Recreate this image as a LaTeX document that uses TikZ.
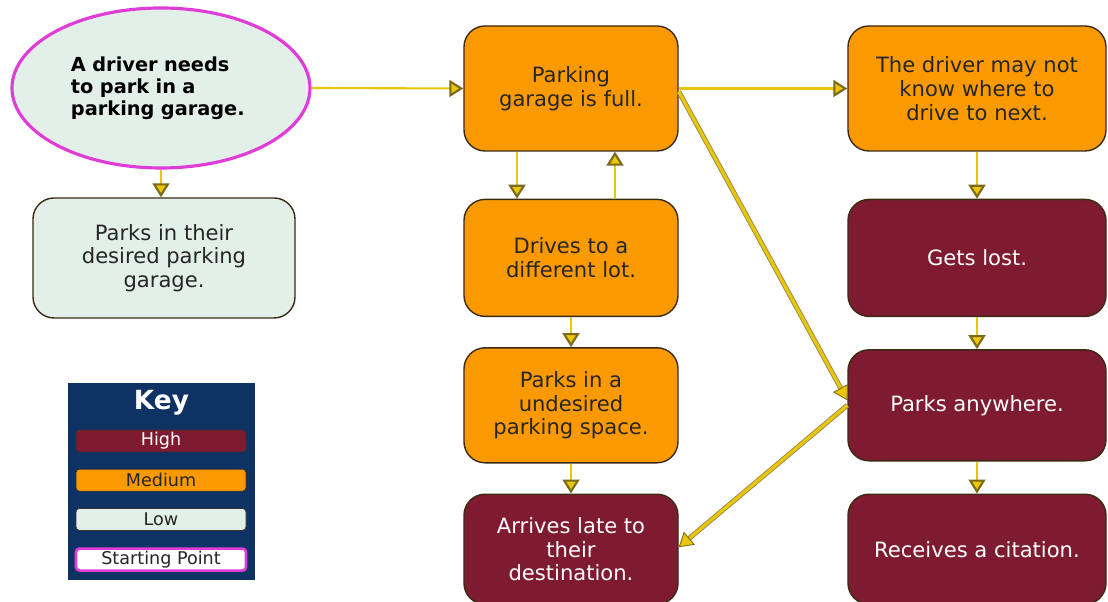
\documentclass[tikz,border=0pt]{standalone}
\usepackage{fontspec}
\setmainfont{DejaVu Sans}
\usepackage{xcolor}
\usepackage{tikz}
\usetikzlibrary{shapes,arrows.meta,positioning}

\definecolor{medorange}{HTML}{FB9A00}
\definecolor{highred}{HTML}{7E1B31}
\definecolor{lowmint}{HTML}{E3F0EA}
\definecolor{startpink}{HTML}{E03CD8}
\definecolor{keynavy}{HTML}{0E3263}
\definecolor{arrowgold}{HTML}{E9C60A}
\definecolor{tipedge}{HTML}{7A6A1A}
\definecolor{boxedge}{HTML}{3B2A14}

\begin{document}
\begin{tikzpicture}[node distance=0.94cm, >={Triangle[length=0.28cm,width=0.34cm,fill=arrowgold,color=tipedge]}]
                    % Define styles
                    \tikzstyle{risk} = [rectangle, rounded corners=0.42cm, draw=boxedge, thick, align=center, font=\fontsize{12}{13.5}\selectfont]
                    \tikzstyle{medium} = [risk, fill=medorange, text=black!85, minimum width=4.28cm]
                    \tikzstyle{high} = [risk, fill=highred, text=white, minimum width=5.16cm]
                    \tikzstyle{low} = [risk, fill=lowmint, text=black!85, minimum width=5.24cm]
                    \tikzstyle{start} = [ellipse, draw=startpink, line width=1.8pt, fill=lowmint, text width=3.6cm, align=left, minimum width=5.96cm, minimum height=3.2cm, font=\fontsize{11}{12.5}\selectfont\bfseries]
                    \tikzstyle{keyitem} = [rectangle, rounded corners=2pt, draw=black!80, minimum width=3.4cm, minimum height=0.44cm, inner sep=0pt, font=\fontsize{10}{11}\selectfont]
                    \tikzstyle{line} = [draw=arrowgold, ->, line width=1.2pt]
                    \tikzstyle{cross} = [draw=tipedge!80, double=arrowgold, double distance=1.8pt, line width=0.5pt, ->]

                    \useasboundingbox (0,0) rectangle (22.16,12.04);

                    % Nodes
                    \node [start] (need) at (3.22,10.28) {A driver needs\\to park in a\\parking garage.};
                    \node [low, minimum height=2.4cm] (desired) at (3.28,6.88) {Parks in their\\desired parking\\garage.};

                    \node [medium, minimum height=2.5cm] (full) at (11.42,10.27) {Parking\\garage is full.};
                    \node [medium, minimum height=2.34cm, below=0.94cm of full] (lot) {Drives to a\\different lot.};
                    \node [medium, minimum height=2.3cm, below=0.6cm of lot] (undesired) {Parks in a\\undesired\\parking space.};
                    \node [high, minimum width=4.28cm, minimum height=2.2cm, below=0.6cm of undesired] (late) {Arrives late to\\their\\destination.};

                    \node [medium, minimum width=5.16cm, minimum height=2.5cm] (unsure) at (19.54,10.27) {The driver may not\\know where to\\drive to next.};
                    \node [high, minimum height=2.34cm, below=0.94cm of unsure] (lost) {Gets lost.};
                    \node [high, minimum height=2.22cm, below=0.64cm of lost] (anywhere) {Parks anywhere.};
                    \node [high, minimum height=2.2cm, below=0.64cm of anywhere] (citation) {Receives a citation.};

                    % Key
                    \node [rectangle, fill=keynavy, minimum width=3.74cm, minimum height=3.94cm] (key) at (3.23,2.41) {};
                    \node [text=white, font=\fontsize{15}{16}\selectfont\bfseries, below=0.02cm of key.north] (keytitle) {Key};
                    \node [keyitem, fill=highred, text=white] (keyhigh) at (3.22,3.22) {High};
                    \node [keyitem, fill=medorange, text=black!85, below=0.33cm of keyhigh] (keymed) {Medium};
                    \node [keyitem, fill=lowmint, text=black!85, below=0.33cm of keymed] (keylow) {Low};
                    \node [keyitem, fill=white, draw=startpink, line width=1.5pt, text=black!85, below=0.33cm of keylow] (keystart) {Starting Point};

                    % Arrows
                    \draw [line] (need.east) -- (full.west);
                    \draw [line] (need.south) -- (need.south |- desired.north);
                    \draw [line] ([xshift=-1.08cm]full.south) -- ([xshift=-1.08cm]lot.north);
                    \draw [line] ([xshift=0.88cm]lot.north) -- ([xshift=0.88cm]full.south);
                    \draw [line] (lot) -- (undesired);
                    \draw [line] (undesired) -- (late);
                    \draw [line] (full.east) -- (unsure.west);
                    \draw [line] (unsure) -- (lost);
                    \draw [line] (lost) -- (anywhere);
                    \draw [line] (anywhere) -- (citation);
                    \draw [cross] ([yshift=-0.06cm]full.east) -- ([yshift=0.1cm]anywhere.west);
                    \draw [cross] (anywhere.west) -- ([yshift=0.04cm]late.east);
                \end{tikzpicture}
\end{document}
